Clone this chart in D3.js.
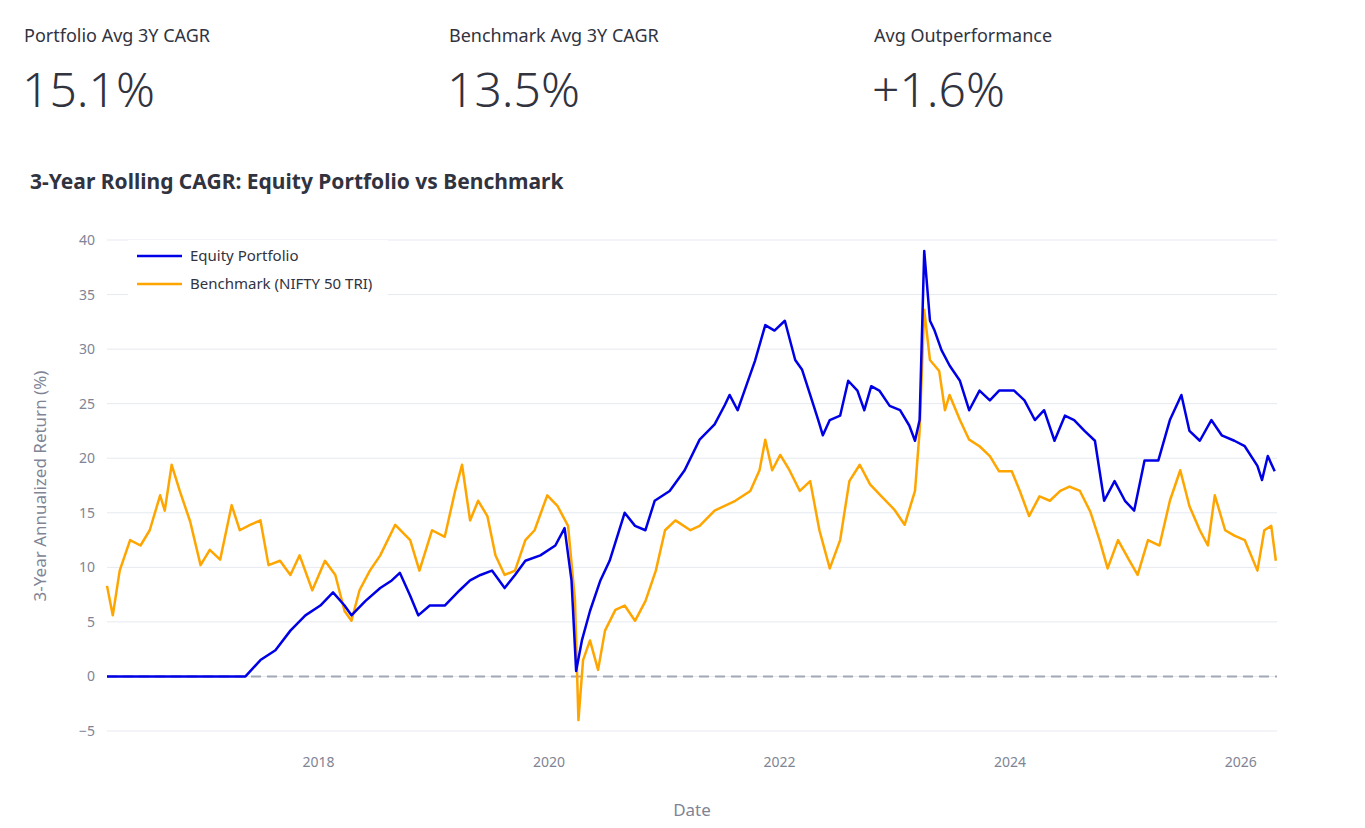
<!DOCTYPE html>
<html><head><meta charset="utf-8">
<script src="https://cdn.jsdelivr.net/npm/d3@7"></script>
<style>
body{margin:0;background:#fff;font-family:"Noto Sans","Open Sans",sans-serif;}
</style></head><body>
<svg id="c" width="1365" height="828"></svg>
<script>
const kpiLabels=["Portfolio Avg 3Y CAGR","Benchmark Avg 3Y CAGR","Avg Outperformance"];
const kpiValues=["15.1%","13.5%","+1.6%"];
const seriesNames=["Equity Portfolio","Benchmark (NIFTY 50 TRI)"];
const yTicks=[-5,0,5,10,15,20,25,30,35,40];
const xTickYears=[2018,2020,2022,2024,2026];
const benchDates=[2016.17,2016.22,2016.28,2016.37,2016.46,2016.54,2016.63,2016.67,2016.73,2016.80,2016.89,2016.98,2017.06,2017.15,2017.25,2017.32,2017.41,2017.50,2017.57,2017.67,2017.76,2017.84,2017.95,2018.06,2018.15,2018.23,2018.29,2018.36,2018.45,2018.54,2018.67,2018.80,2018.88,2018.99,2019.10,2019.19,2019.25,2019.32,2019.39,2019.47,2019.54,2019.62,2019.71,2019.80,2019.88,2019.99,2020.08,2020.17,2020.23,2020.26,2020.30,2020.36,2020.43,2020.49,2020.58,2020.66,2020.75,2020.84,2020.93,2021.01,2021.10,2021.23,2021.31,2021.44,2021.62,2021.75,2021.83,2021.88,2021.94,2022.01,2022.09,2022.18,2022.27,2022.35,2022.44,2022.53,2022.61,2022.70,2022.79,2022.87,2023.00,2023.09,2023.18,2023.22,2023.26,2023.31,2023.39,2023.44,2023.48,2023.57,2023.65,2023.74,2023.83,2023.91,2024.02,2024.09,2024.17,2024.26,2024.35,2024.44,2024.52,2024.61,2024.70,2024.78,2024.85,2024.94,2025.04,2025.11,2025.20,2025.30,2025.39,2025.48,2025.56,2025.65,2025.72,2025.78,2025.87,2025.95,2026.04,2026.15,2026.21,2026.27,2026.31];
const benchValues=[8.3,5.6,9.7,12.5,12.0,13.4,16.6,15.2,19.4,17.0,14.2,10.2,11.6,10.7,15.7,13.4,13.9,14.3,10.2,10.6,9.3,11.1,7.9,10.6,9.3,6.0,5.1,7.9,9.7,11.1,13.9,12.5,9.7,13.4,12.8,17.0,19.4,14.3,16.1,14.7,11.1,9.3,9.7,12.5,13.4,16.6,15.6,13.8,7.0,-4.0,1.5,3.3,0.6,4.2,6.1,6.5,5.1,6.9,9.7,13.4,14.3,13.4,13.8,15.2,16.1,17.0,18.9,21.7,18.9,20.3,18.9,17.0,17.9,13.4,9.9,12.5,17.9,19.4,17.6,16.7,15.3,13.9,17.0,22.5,33.6,29.0,28.0,24.4,25.8,23.5,21.7,21.1,20.2,18.8,18.8,17.0,14.7,16.5,16.1,17.0,17.4,17.0,15.1,12.5,9.9,12.5,10.6,9.3,12.5,12.0,16.1,18.9,15.6,13.4,12.0,16.6,13.4,12.9,12.5,9.7,13.4,13.8,10.6];
const portDates=[2016.17,2017.37,2017.50,2017.63,2017.76,2017.89,2018.02,2018.13,2018.23,2018.29,2018.41,2018.54,2018.64,2018.71,2018.80,2018.87,2018.97,2019.10,2019.23,2019.32,2019.41,2019.51,2019.62,2019.71,2019.80,2019.93,2020.06,2020.14,2020.20,2020.24,2020.29,2020.36,2020.45,2020.53,2020.66,2020.75,2020.84,2020.92,2021.05,2021.18,2021.31,2021.44,2021.53,2021.57,2021.64,2021.70,2021.79,2021.88,2021.96,2022.05,2022.14,2022.20,2022.27,2022.34,2022.38,2022.44,2022.53,2022.60,2022.68,2022.74,2022.80,2022.87,2022.96,2023.05,2023.13,2023.18,2023.22,2023.26,2023.31,2023.35,2023.41,2023.48,2023.57,2023.65,2023.74,2023.83,2023.91,2024.04,2024.13,2024.22,2024.30,2024.39,2024.48,2024.56,2024.65,2024.74,2024.82,2024.91,2025.00,2025.08,2025.17,2025.29,2025.39,2025.49,2025.56,2025.65,2025.75,2025.84,2025.95,2026.04,2026.15,2026.19,2026.24,2026.30];
const portValues=[0,0,1.5,2.4,4.2,5.6,6.5,7.7,6.5,5.6,6.9,8.1,8.8,9.5,7.4,5.6,6.5,6.5,7.9,8.8,9.3,9.7,8.1,9.3,10.6,11.1,12.0,13.6,8.8,0.5,3.3,6.0,8.8,10.6,15.0,13.8,13.4,16.1,17.0,18.9,21.7,23.1,24.9,25.8,24.4,26.2,28.9,32.2,31.7,32.6,29.0,28.1,25.8,23.5,22.1,23.5,23.9,27.1,26.2,24.4,26.6,26.2,24.8,24.4,23.0,21.6,23.5,39.0,32.6,31.7,29.9,28.5,27.1,24.4,26.2,25.3,26.2,26.2,25.3,23.5,24.4,21.6,23.9,23.5,22.5,21.6,16.1,17.9,16.1,15.2,19.8,19.8,23.5,25.8,22.5,21.6,23.5,22.1,21.6,21.1,19.3,18.0,20.2,18.8];
const colors=["#0000e6","#ffa500"];

const toDate=d=>{const y=Math.floor(d);const s=new Date(y,0,1),e=new Date(y+1,0,1);return new Date(+s+(e-s)*(d-y));};
const svg=d3.select("#c");
const font='"Noto Sans","Open Sans",sans-serif';
kpiLabels.forEach((l,i)=>{
  svg.append("text").attr("x",24+425*i).attr("y",42).attr("font-size",18).attr("fill","#31333f").attr("font-family",font).text(l);
  svg.append("text").attr("x",22+425*i).attr("y",107).attr("font-size",48).attr("font-weight",300).attr("fill","#31333f").attr("font-family",font).text(kpiValues[i]);
});
svg.append("text").attr("x",30).attr("y",189).attr("font-size",21).attr("font-weight",700).attr("fill","#31333f").attr("font-family",font).text("3-Year Rolling CAGR: Equity Portfolio vs Benchmark");

const x=d3.scaleTime().domain([toDate(2016.17),toDate(2026.32)]).range([107,1277]);
const y=d3.scaleLinear().domain([-5,40]).range([731,240]);
const g=svg.append("g");
g.selectAll("line.grid").data(yTicks).join("line").attr("x1",107).attr("x2",1277).attr("y1",d=>y(d)).attr("y2",d=>y(d)).attr("stroke","#e6e9ef");
const ya=svg.append("g").attr("transform","translate(107,0)").call(d3.axisLeft(y).tickValues(yTicks).tickSize(0).tickPadding(12).tickFormat(d=>d<0?"−"+Math.abs(d):d));
ya.select(".domain").remove();
ya.selectAll("text").attr("font-size",14).attr("fill","#808495").attr("font-family",font);
const xa=svg.append("g").attr("transform","translate(0,745)").call(d3.axisBottom(x).tickValues(xTickYears.map(d=>new Date(d,0,1))).tickSize(0).tickPadding(12).tickFormat(d3.timeFormat("%Y")));
xa.select(".domain").remove();
xa.selectAll("text").attr("font-size",14).attr("fill","#808495").attr("font-family",font);
svg.append("text").attr("x",692).attr("y",816).attr("text-anchor","middle").attr("font-size",17).attr("fill","#808495").attr("font-family",font).text("Date");
svg.append("text").attr("transform","translate(46,486) rotate(-90)").attr("text-anchor","middle").attr("font-size",17).attr("fill","#808495").attr("font-family",font).text("3-Year Annualized Return (%)");

svg.append("line").attr("x1",107).attr("x2",1277).attr("y1",y(0)).attr("y2",y(0)).attr("stroke","#a3a8b8").attr("stroke-width",2).attr("stroke-dasharray","10,6");
const line=d3.line().x(d=>x(toDate(d[0]))).y(d=>y(d[1]));
svg.append("path").datum(benchDates.map((d,i)=>[d,benchValues[i]])).attr("d",line).attr("fill","none").attr("stroke",colors[1]).attr("stroke-width",2.5).attr("stroke-linejoin","round");
svg.append("path").datum(portDates.map((d,i)=>[d,portValues[i]])).attr("d",line).attr("fill","none").attr("stroke",colors[0]).attr("stroke-width",2.5).attr("stroke-linejoin","round");
svg.append("rect").attr("x",128).attr("y",240).attr("width",260).attr("height",58).attr("fill","#fff");
seriesNames.forEach((n,i)=>{
  svg.append("line").attr("x1",137).attr("x2",182).attr("y1",256+28*i).attr("y2",256+28*i).attr("stroke",colors[i]).attr("stroke-width",2.5);
  svg.append("text").attr("x",190).attr("y",261+28*i).attr("font-size",15).attr("fill","#31333f").attr("font-family",font).text(n);
});
</script></body></html>
